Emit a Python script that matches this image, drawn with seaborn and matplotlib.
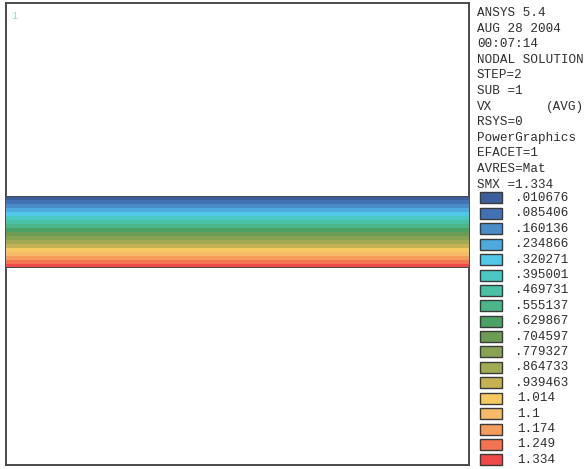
import numpy as np
import pandas as pd
import matplotlib
matplotlib.use("Agg")
import matplotlib.pyplot as plt
from matplotlib.colors import ListedColormap
from matplotlib.patches import Rectangle
import seaborn as sns

# ANSYS nodal solution header
header = ["ANSYS 5.4", "AUG 28 2004", "00:07:14", "NODAL SOLUTION", "STEP=2",
          "SUB =1", "VX", "RSYS=0", "PowerGraphics", "EFACET=1",
          "AVRES=Mat", "SMX =1.334"]

# contour levels and their colours (legend)
levels = [0.010676, 0.085406, 0.160136, 0.234866, 0.320271, 0.395001,
          0.469731, 0.555137, 0.629867, 0.704597, 0.779327, 0.864733,
          0.939463, 1.014, 1.1, 1.174, 1.249, 1.334]
level_labels = [".010676", ".085406", ".160136", ".234866", ".320271", ".395001",
                ".469731", ".555137", ".629867", ".704597", ".779327", ".864733",
                ".939463", "1.014", "1.1", "1.174", "1.249", "1.334"]
level_colors = ["#3c5e9c", "#4372b4", "#4a8cca", "#4eaade", "#52c8e8", "#4cc8c4",
                "#4ac0a4", "#4cb68a", "#4ca264", "#6c9c54", "#86a252", "#a2aa54",
                "#c6b254", "#f6c862", "#f6ba6a", "#f49c5a", "#f27452", "#ee4a4a"]

# VX across the channel band (top -> bottom)
band_vx = levels

W, H = 584, 469
fig = plt.figure(figsize=(W / 100, H / 100), dpi=100)
fig.patch.set_facecolor("white")

def fx(px):
    return px / W

def fy(py):
    return 1 - py / H

frame_col = "#4a4a4a"

# main viewport frame
ax = fig.add_axes([fx(6), fy(465), fx(469 - 6), (465 - 3) / H])
ax.set_xticks([])
ax.set_yticks([])
for s in ax.spines.values():
    s.set_color(frame_col)
    s.set_linewidth(1.4)
ax.text(0.011, 0.982, "1", transform=ax.transAxes, fontsize=7.5,
        color="#a6d6d6", family="Liberation Mono", va="top")

# channel band as heatmap
step = (levels[-1] - levels[0]) / (len(levels) - 1)
cmap = ListedColormap(level_colors)
band = pd.DataFrame({"x0": band_vx, "x1": band_vx})
hax = fig.add_axes([fx(6), fy(268), fx(469 - 6), (268 - 196) / H])
sns.heatmap(band, ax=hax, cmap=cmap, vmin=levels[0] - step / 2,
            vmax=levels[-1] + step / 2, cbar=False, xticklabels=False,
            yticklabels=False)
hax.axhline(0, color=frame_col, lw=1.4)
hax.axhline(len(band_vx), color=frame_col, lw=1.4)

# legend text
tcol = "#2e2e2e"
mono = "Liberation Mono"
fs = 9.1
for i, line in enumerate(header):
    y = 13 + i * 15.6
    fig.text(fx(477), fy(y), line, fontsize=fs, family=mono, color=tcol,
             va="center", ha="left")
    if line == "VX":
        fig.text(fx(584), fy(y), "(AVG)", fontsize=fs, family=mono,
                 color=tcol, va="center", ha="right")

for i, (lab, c) in enumerate(zip(level_labels, level_colors)):
    yc = 198 + i * 15.4
    fig.patches.append(Rectangle((fx(480), fy(yc + 5.5)), fx(22), 11 / H,
                                 transform=fig.transFigure, facecolor=c,
                                 edgecolor="#3a3a3a", lw=1.0))
    fig.text(fx(515 if lab.startswith(".") else 517), fy(yc), lab,
             fontsize=fs, family=mono, color=tcol, va="center", ha="left")

fig.savefig("out.png", dpi=100, facecolor="white")
